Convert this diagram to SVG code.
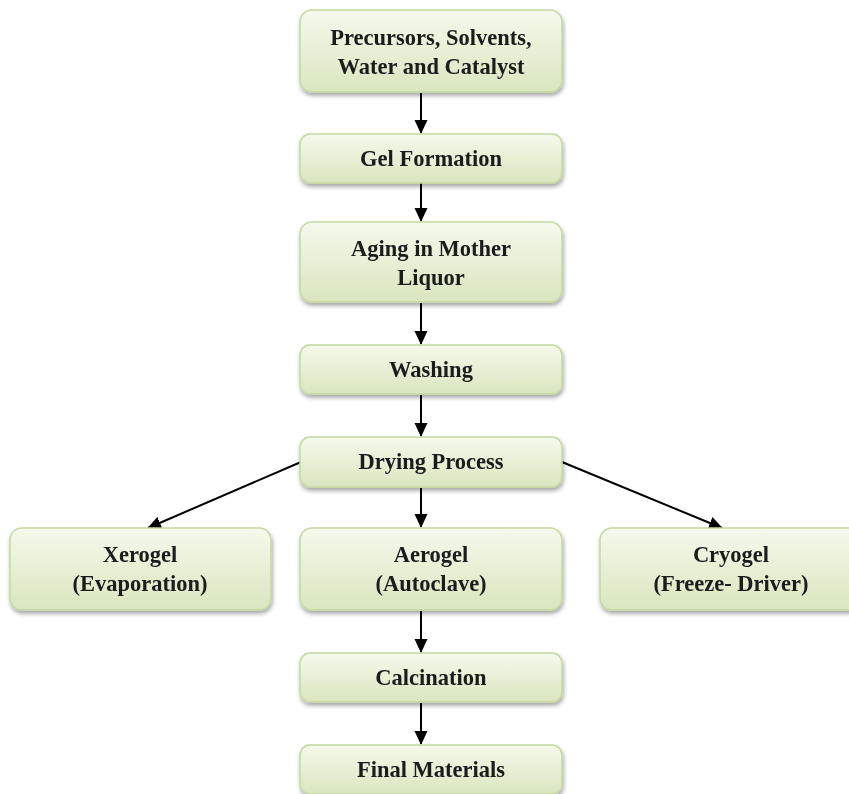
<svg xmlns="http://www.w3.org/2000/svg" width="849" height="794" viewBox="0 0 849 794">
<style>
.box{fill:url(#g);stroke:#c5d8a0;stroke-width:1.5}
.t{font-family:"Liberation Serif","Times New Roman",serif;font-weight:bold;font-size:22.5px;fill:#1a1a1a;text-anchor:middle}
.c{stroke:#000;stroke-width:2;fill:none;marker-end:url(#ah)}
</style>
<defs>
<linearGradient id="g" x1="0" y1="0" x2="0" y2="1">
<stop offset="0" stop-color="#f6f9ec"/>
<stop offset="1" stop-color="#d9e6bf"/>
</linearGradient>
<filter id="sh" x="-10%" y="-10%" width="120%" height="140%">
<feGaussianBlur in="SourceAlpha" stdDeviation="2"/>
<feOffset dx="1" dy="3"/>
<feComponentTransfer><feFuncA type="linear" slope="0.35"/></feComponentTransfer>
<feMerge><feMergeNode/><feMergeNode in="SourceGraphic"/></feMerge>
</filter>
<marker id="ah" markerWidth="14" markerHeight="14" refX="13" refY="7" orient="auto" markerUnits="userSpaceOnUse" viewBox="0 0 14 14">
<path d="M0,0.5 L14,7 L0,13.5 z" fill="#000"/>
</marker>
</defs>
<g id="connectors">
<line class="c" x1="421" y1="93" x2="421" y2="133"/>
<line class="c" x1="421" y1="183" x2="421" y2="221"/>
<line class="c" x1="421" y1="303" x2="421" y2="344"/>
<line class="c" x1="421" y1="395" x2="421" y2="436"/>
<line class="c" x1="421" y1="488" x2="421" y2="527"/>
<line class="c" x1="301" y1="462" x2="148" y2="528"/>
<line class="c" x1="562" y1="462" x2="722" y2="528"/>
<line class="c" x1="421" y1="611" x2="421" y2="652"/>
<line class="c" x1="421" y1="703" x2="421" y2="744"/>
</g>
<g id="n1" filter="url(#sh)"><rect class="box" x="300" y="10" width="262" height="82" rx="12"/><text class="t" x="431" y="45">Precursors, Solvents,</text><text class="t" x="431" y="74">Water and Catalyst</text></g>
<g id="n2" filter="url(#sh)"><rect class="box" x="300" y="134" width="262" height="49" rx="10"/><text class="t" x="431" y="166">Gel Formation</text></g>
<g id="n3" filter="url(#sh)"><rect class="box" x="300" y="222" width="262" height="80" rx="12"/><text class="t" x="431" y="256">Aging in Mother</text><text class="t" x="431" y="285">Liquor</text></g>
<g id="n4" filter="url(#sh)"><rect class="box" x="300" y="345" width="262" height="49" rx="10"/><text class="t" x="431" y="377">Washing</text></g>
<g id="n5" filter="url(#sh)"><rect class="box" x="300" y="437" width="262" height="50" rx="10"/><text class="t" x="431" y="469">Drying Process</text></g>
<g id="n6" filter="url(#sh)"><rect class="box" x="10" y="528" width="261" height="82" rx="12"/><text class="t" x="140" y="562">Xerogel</text><text class="t" x="140" y="591">(Evaporation)</text></g>
<g id="n7" filter="url(#sh)"><rect class="box" x="300" y="528" width="262" height="82" rx="12"/><text class="t" x="431" y="562">Aerogel</text><text class="t" x="431" y="591">(Autoclave)</text></g>
<g id="n8" filter="url(#sh)"><rect class="box" x="600" y="528" width="262" height="82" rx="12"/><text class="t" x="731" y="562">Cryogel</text><text class="t" x="731" y="591">(Freeze- Driver)</text></g>
<g id="n9" filter="url(#sh)"><rect class="box" x="300" y="653" width="262" height="49" rx="10"/><text class="t" x="431" y="685">Calcination</text></g>
<g id="n10" filter="url(#sh)"><rect class="box" x="300" y="745" width="262" height="49" rx="10"/><text class="t" x="431" y="777">Final Materials</text></g>
</svg>
